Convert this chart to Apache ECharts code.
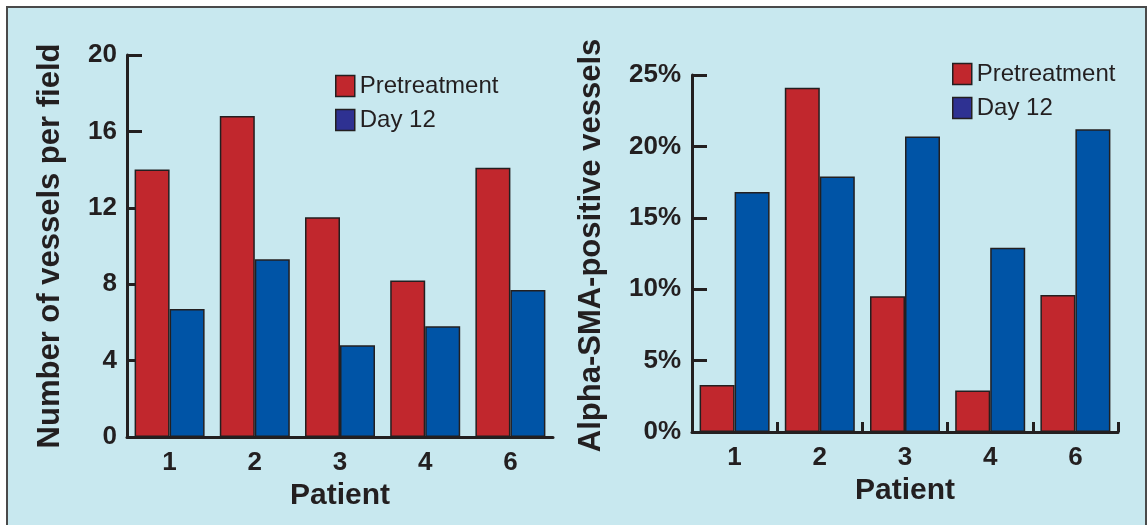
<!DOCTYPE html>
<html>
<head>
<meta charset="utf-8">
<script src="https://cdn.jsdelivr.net/npm/echarts@6/dist/echarts.min.js"></script>
<style>
  html, body { margin: 0; padding: 0; background: #ffffff; }
  #chart { width: 1148px; height: 525px; }
</style>
</head>
<body>
<div id="chart"></div>
<script>
// ---- Data ----
const patients = ['1', '2', '3', '4', '6'];
const seriesNames = ['Pretreatment', 'Day 12'];
// Left panel: number of vessels per field
const vesselsPre = [14.0, 16.8, 11.5, 8.2, 14.1];
const vesselsDay12 = [6.7, 9.3, 4.8, 5.8, 7.7];
// Right panel: alpha-SMA-positive vessels (%)
const smaPre = [3.3, 24.1, 9.5, 2.9, 9.6];
const smaDay12 = [16.8, 17.9, 20.7, 12.9, 21.2];
const leftTicks = { min: 0, max: 20, interval: 4 };
const rightTicks = { min: 0, max: 25, interval: 5 };

const FONT = "'Liberation Sans', Arial, Helvetica, sans-serif";
const INK = '#231f20';
const RED = '#c1272d';
const BLUE = '#0054a6';
const NAVY = '#2e3192';

const chart = echarts.init(document.getElementById('chart'), null, { renderer: 'canvas' });

function xAxisCfg(gridIndex, showTicks) {
  return {
    type: 'category', gridIndex, data: patients,
    name: 'Patient', nameLocation: 'middle', nameGap: 40,
    nameTextStyle: { fontFamily: FONT, fontSize: 30, fontWeight: 'bold', color: INK },
    axisLine: { lineStyle: { color: INK, width: 3 } },
    axisTick: { show: showTicks, inside: true, length: 10, lineStyle: { color: INK, width: 3 } },
    axisLabel: { fontFamily: FONT, fontSize: 26, fontWeight: 'bold', color: INK, margin: 13 },
    splitLine: { show: false }
  };
}
function yAxisCfg(gridIndex, ticks, name, nameGap, fmt, margin, pad) {
  return {
    type: 'value', gridIndex, min: ticks.min, max: ticks.max, interval: ticks.interval,
    name, nameLocation: 'middle', nameGap, nameRotate: 90,
    nameTextStyle: { fontFamily: FONT, fontSize: 31, fontWeight: 'bold', color: INK, padding: pad },
    axisLine: { show: true, lineStyle: { color: INK, width: 3 } },
    axisTick: { show: true, inside: true, length: 15, lineStyle: { color: INK, width: 3 } },
    axisLabel: { fontFamily: FONT, fontSize: 26, fontWeight: 'bold', color: INK, margin, formatter: fmt },
    splitLine: { show: false }
  };
}
function barSeries(name, data, color, xi, yi) {
  return {
    type: 'bar', name, data, xAxisIndex: xi, yAxisIndex: yi,
    barWidth: 35, barGap: '0%',
    itemStyle: { color, borderColor: INK, borderWidth: 1.5 },
    emphasis: { disabled: true }, animation: false
  };
}
function legendCfg(left, top) {
  return {
    left, top, orient: 'vertical', icon: 'rect', itemWidth: 19, itemHeight: 21, itemGap: 10,
    textStyle: { fontFamily: FONT, fontSize: 24, color: INK, padding: [0, 0, 0, 0] },
    data: [
      { name: seriesNames[0], itemStyle: { color: RED, borderColor: INK, borderWidth: 1.5 } },
      { name: seriesNames[1], itemStyle: { color: NAVY, borderColor: INK, borderWidth: 1.5 } }
    ],
    selectedMode: false
  };
}

chart.setOption({
  backgroundColor: '#ffffff',
  animation: false,
  graphic: [{
    type: 'rect', z: -10, silent: true,
    shape: { x: 7, y: 7, width: 1139, height: 530 },
    style: { fill: '#c8e8ef', stroke: '#4a4a4a', lineWidth: 2 }
  }],
  grid: [
    { left: 127, top: 55, width: 426, height: 382 },
    { left: 692, top: 75, width: 426, height: 357 }
  ],
  legend: [legendCfg(330, 69), legendCfg(947, 57)],
  xAxis: [xAxisCfg(0, false), xAxisCfg(1, true)],
  yAxis: [
    yAxisCfg(0, leftTicks, 'Number of vessels per field', 61, '{value}', 10, [0, 0, 0, 0]),
    yAxisCfg(1, rightTicks, 'Alpha-SMA-positive vessels', 85, '{value}%', 11, [0, 0, 0, 16])
  ],
  series: [
    barSeries(seriesNames[0], vesselsPre, RED, 0, 0),
    barSeries(seriesNames[1], vesselsDay12, BLUE, 0, 0),
    barSeries(seriesNames[0], smaPre, RED, 1, 1),
    barSeries(seriesNames[1], smaDay12, BLUE, 1, 1)
  ]
});
</script>
</body>
</html>
